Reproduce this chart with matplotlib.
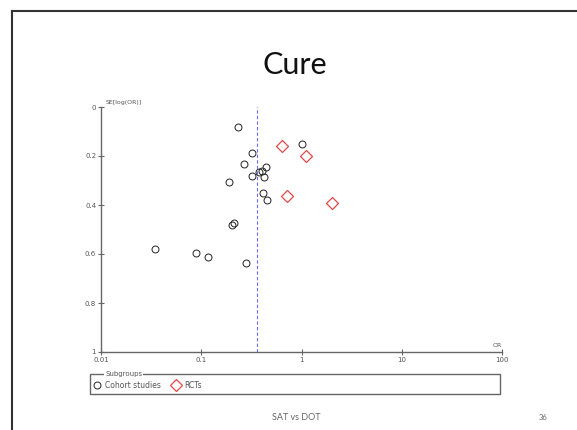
import numpy as np
import matplotlib.pyplot as plt
from matplotlib.patches import Rectangle
from matplotlib.lines import Line2D

# cohort studies: odds ratio and SE of log(OR)
cohort_or = [0.231, 1.0, 0.32, 0.27, 0.44, 0.40, 0.38, 0.32, 0.42, 0.188,
             0.41, 0.45, 0.214, 0.204, 0.0343, 0.0887, 0.117, 0.28]
cohort_se = [0.080, 0.151, 0.187, 0.233, 0.245, 0.260, 0.267, 0.282, 0.287, 0.306,
             0.350, 0.380, 0.475, 0.483, 0.578, 0.596, 0.614, 0.636]
# RCTs
rct_or = [0.64, 1.11, 0.72, 2.02]
rct_se = [0.159, 0.199, 0.363, 0.390]
pooled_or = 0.36

xticks = [0.01, 0.1, 1, 10, 100]
xtick_labels = ["0.01", "0.1", "1", "10", "100"]
yticks = [0, 0.2, 0.4, 0.6, 0.8, 1]
ytick_labels = ["0", "0.2", "0.4", "0.6", "0.8", "1"]

W, H = 577, 430
fig = plt.figure(figsize=(W / 100, H / 100), dpi=100)

# slide border
fig.add_artist(Line2D([12 / W, 12 / W], [0, 1 - 11 / H], color="#333333", lw=1.5))
fig.add_artist(Line2D([12 / W, 1], [1 - 11 / H, 1 - 11 / H], color="#333333", lw=1.5))

fig.text(295 / W, 1 - 65 / H, "Cure", family="Lato", fontsize=22, ha="center", va="center",
         color="#111111")

ax = fig.add_axes([101 / W, 1 - 352 / H, 401 / W, 245 / H])
ax.set_xscale("log")
ax.set_xlim(0.01, 100)
ax.set_ylim(1, 0)
for s in ["top", "right"]:
    ax.spines[s].set_visible(False)
for s in ["left", "bottom"]:
    ax.spines[s].set_color("#666666")
    ax.spines[s].set_linewidth(1.0)

ax.set_xticks(xticks)
ax.set_xticklabels(xtick_labels)
ax.minorticks_off()
ax.set_yticks(yticks)
ax.set_yticklabels(ytick_labels)
ax.tick_params(direction="inout", length=5, width=0.8, color="#666666",
               labelsize=5, labelcolor="#555555", pad=1)

ax.axvline(pooled_or, color="#6a6af5", lw=0.8, ls=(0, (3, 2)))

ax.plot(cohort_or, cohort_se, "o", mfc="none", mec="#222222", ms=5, mew=0.7,
        clip_on=False)
ax.plot(rct_or, rct_se, "D", mfc="none", mec="#e04848", ms=6, mew=0.9,
        clip_on=False)

ax.text(0.011, -0.01, "SE[log(OR)]", fontsize=4.5, color="#555555", va="bottom")
ax.text(100, 0.985, "OR", fontsize=4.5, color="#555555", ha="right", va="bottom")

# legend box
fig.add_artist(Rectangle((90 / W, 1 - 394 / H), 410 / W, 20 / H, transform=fig.transFigure,
                         fill=False, ec="#666666", lw=1.0))
fig.text(105 / W, 1 - 374 / H, "Subgroups", fontsize=5, color="#555555", va="center",
         bbox=dict(fc="white", ec="none", pad=0.5))
lax = fig.add_axes([93 / W, 1 - 392 / H, 200 / W, 14 / H])
lax.axis("off")
h1 = Line2D([], [], ls="none", marker="o", mfc="none", mec="#222222", ms=5, mew=0.7)
h2 = Line2D([], [], ls="none", marker="D", mfc="none", mec="#e04848", ms=6, mew=0.9)
leg = lax.legend([h1, h2], ["Cohort studies", "RCTs"], ncol=2, loc="center left",
                 frameon=False, fontsize=5.5, handlelength=1.0, handletextpad=0.6,
                 columnspacing=1.4, borderaxespad=0, borderpad=0)
for t in leg.get_texts():
    t.set_color("#555555")

fig.text(296 / W, 1 - 417 / H, "SAT vs DOT", family="Lato", fontsize=6.5, ha="center",
         va="center", color="#666666")
fig.text(543 / W, 1 - 417 / H, "36", family="Lato", fontsize=5.5, ha="center",
         va="center", color="#666666")

fig.savefig("out.png", dpi=100)
